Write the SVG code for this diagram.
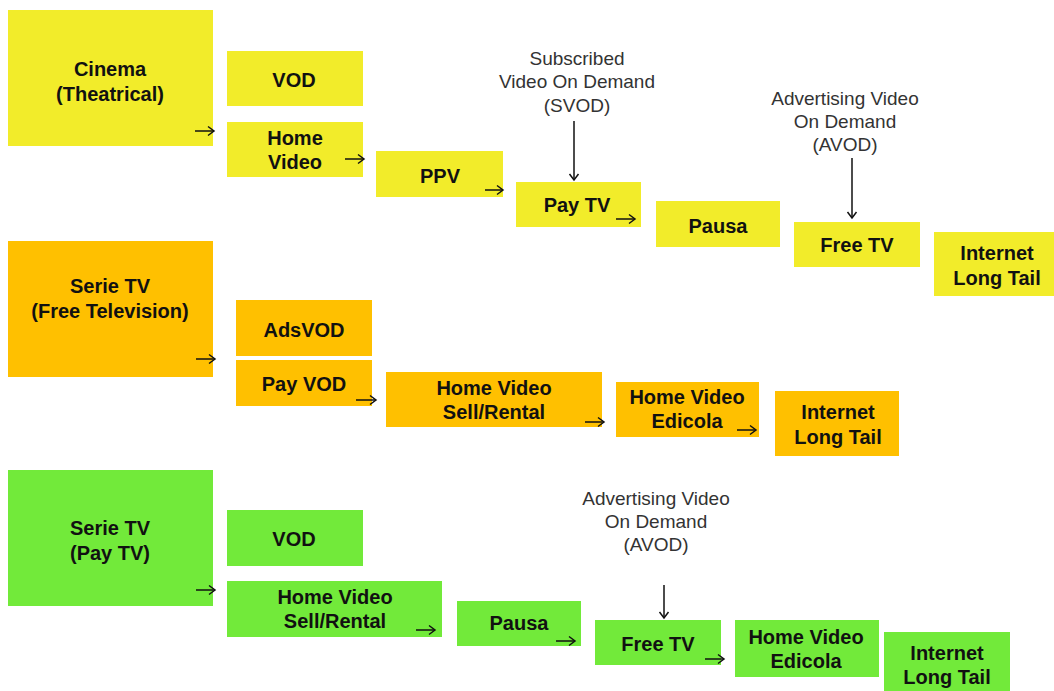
<svg xmlns="http://www.w3.org/2000/svg" width="1054" height="691" viewBox="0 0 1054 691">
  <style>
    .y { fill: #F2EC2A; }
    .o { fill: #FFC000; }
    .g { fill: #72EA3A; }
    .lbl { font-family: "Liberation Sans", Arial, sans-serif; font-size: 20px; font-weight: bold; fill: #111; text-anchor: middle; }
    .note { font-family: "Liberation Sans", Arial, sans-serif; font-size: 19px; fill: #333; text-anchor: middle; }
    .arr { stroke: #111; stroke-width: 1.5; fill: none; marker-end: url(#head); }
  </style>
  <defs>
    <marker id="head" markerUnits="userSpaceOnUse" markerWidth="12" markerHeight="12" refX="9" refY="6" orient="auto">
      <path d="M3,1.5 L9,6 L3,10.5" fill="none" stroke="#111" stroke-width="1.5"/>
    </marker>
  </defs>
  <rect width="1054" height="691" fill="#fff"/>

  <!-- Cinema window chain -->
  <g id="cinema"><rect class="y" x="8" y="10" width="205" height="136"/>
    <text class="lbl" x="110" y="76">Cinema</text><text class="lbl" x="110" y="101">(Theatrical)</text></g>
  <g id="c-vod"><rect class="y" x="227" y="51" width="136" height="55"/>
    <text class="lbl" x="294" y="87">VOD</text></g>
  <g id="c-homevideo"><rect class="y" x="227" y="122" width="136" height="55"/>
    <text class="lbl" x="295" y="145">Home</text><text class="lbl" x="295" y="169">Video</text></g>
  <g id="c-ppv"><rect class="y" x="376" y="151" width="127" height="46"/>
    <text class="lbl" x="440" y="183">PPV</text></g>
  <g id="c-paytv"><rect class="y" x="516" y="182" width="125" height="45"/>
    <text class="lbl" x="577" y="212">Pay TV</text></g>
  <g id="c-pausa"><rect class="y" x="656" y="201" width="124" height="46"/>
    <text class="lbl" x="718" y="233">Pausa</text></g>
  <g id="c-freetv"><rect class="y" x="794" y="222" width="126" height="45"/>
    <text class="lbl" x="857" y="252">Free TV</text></g>
  <g id="c-internet"><rect class="y" x="934" y="232" width="126" height="64"/>
    <text class="lbl" x="997" y="260">Internet</text><text class="lbl" x="997" y="285">Long Tail</text></g>
  <g id="svod-note">
    <text class="note" x="577" y="65">Subscribed</text>
    <text class="note" x="577" y="88">Video On Demand</text>
    <text class="note" x="577" y="112">(SVOD)</text></g>
  <g id="avod-note-1">
    <text class="note" x="845" y="105">Advertising Video</text>
    <text class="note" x="845" y="128">On Demand</text>
    <text class="note" x="845" y="151">(AVOD)</text></g>

  <!-- Free TV series chain -->
  <g id="free-series"><rect class="o" x="8" y="241" width="205" height="136"/>
    <text class="lbl" x="110" y="293">Serie TV</text><text class="lbl" x="110" y="318">(Free Television)</text></g>
  <g id="f-adsvod"><rect class="o" x="236" y="300" width="136" height="56"/>
    <text class="lbl" x="304" y="337">AdsVOD</text></g>
  <g id="f-payvod"><rect class="o" x="236" y="360" width="136" height="46"/>
    <text class="lbl" x="304" y="391">Pay VOD</text></g>
  <g id="f-homevideo"><rect class="o" x="386" y="372" width="216" height="55"/>
    <text class="lbl" x="494" y="395">Home Video</text><text class="lbl" x="494" y="419">Sell/Rental</text></g>
  <g id="f-edicola"><rect class="o" x="616" y="382" width="143" height="55"/>
    <text class="lbl" x="687" y="404">Home Video</text><text class="lbl" x="687" y="428">Edicola</text></g>
  <g id="f-internet"><rect class="o" x="775" y="391" width="124" height="65"/>
    <text class="lbl" x="838" y="419">Internet</text><text class="lbl" x="838" y="444">Long Tail</text></g>

  <!-- Pay TV series chain -->
  <g id="pay-series"><rect class="g" x="8" y="470" width="205" height="136"/>
    <text class="lbl" x="110" y="535">Serie TV</text><text class="lbl" x="110" y="560">(Pay TV)</text></g>
  <g id="p-vod"><rect class="g" x="227" y="510" width="136" height="56"/>
    <text class="lbl" x="294" y="546">VOD</text></g>
  <g id="p-homevideo"><rect class="g" x="227" y="581" width="215" height="56"/>
    <text class="lbl" x="335" y="604">Home Video</text><text class="lbl" x="335" y="628">Sell/Rental</text></g>
  <g id="p-pausa"><rect class="g" x="457" y="601" width="124" height="45"/>
    <text class="lbl" x="519" y="630">Pausa</text></g>
  <g id="p-freetv"><rect class="g" x="595" y="620" width="126" height="45"/>
    <text class="lbl" x="658" y="651">Free TV</text></g>
  <g id="p-edicola"><rect class="g" x="735" y="620" width="144" height="57"/>
    <text class="lbl" x="806" y="644">Home Video</text><text class="lbl" x="806" y="668">Edicola</text></g>
  <g id="p-internet"><rect class="g" x="884" y="632" width="126" height="65"/>
    <text class="lbl" x="947" y="660">Internet</text><text class="lbl" x="947" y="684">Long Tail</text></g>
  <g id="avod-note-2">
    <text class="note" x="656" y="505">Advertising Video</text>
    <text class="note" x="656" y="528">On Demand</text>
    <text class="note" x="656" y="551">(AVOD)</text></g>

  <!-- connectors -->
  <g id="connectors">
    <path class="arr" d="M195,131 H214"/>
    <path class="arr" d="M345,159 H364"/>
    <path class="arr" d="M485,190 H503"/>
    <path class="arr" d="M616,219 H635"/>
    <path class="arr" d="M574,121 V180"/>
    <path class="arr" d="M852,158 V218"/>

    <path class="arr" d="M196,359 H215"/>
    <path class="arr" d="M356,400 H376"/>
    <path class="arr" d="M585,422 H604"/>
    <path class="arr" d="M737,430 H756"/>

    <path class="arr" d="M196,590 H215"/>
    <path class="arr" d="M416,630 H435"/>
    <path class="arr" d="M556,641 H575"/>
    <path class="arr" d="M705,659 H724"/>
    <path class="arr" d="M664,585 V618"/>
  </g>
</svg>
